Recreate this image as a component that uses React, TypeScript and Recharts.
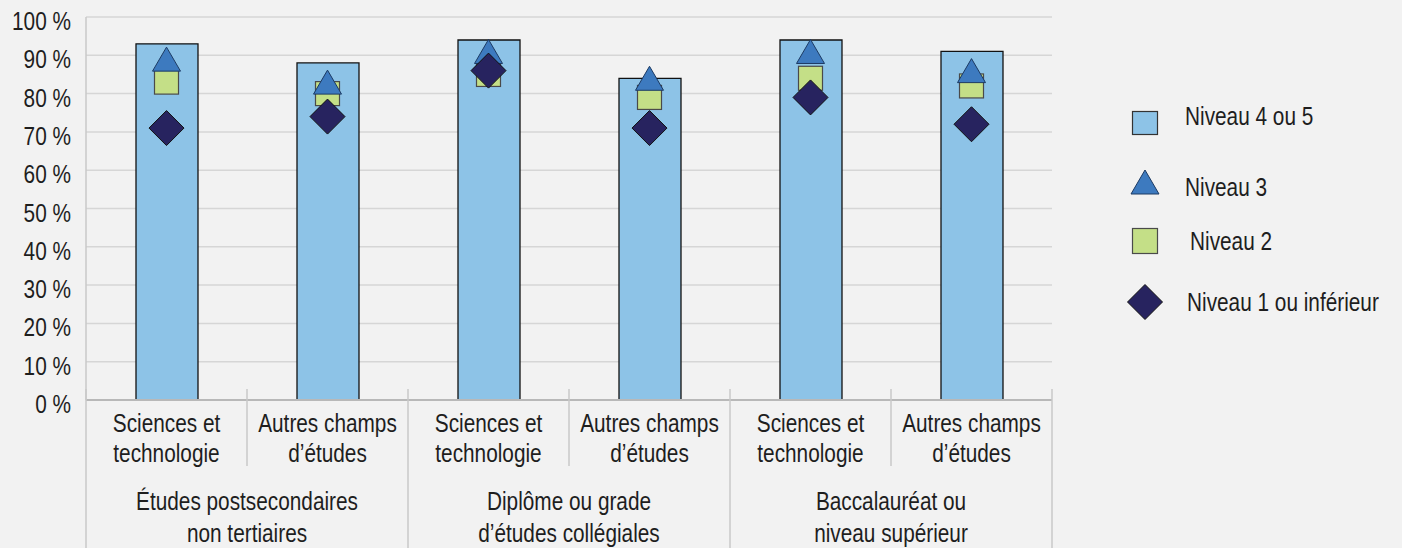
import React from 'react';
import { ComposedChart, Bar, Scatter, XAxis, YAxis, CartesianGrid, Legend } from 'recharts';

// ---- data ----
const groups = [
  'Études postsecondaires\nnon tertiaires',
  'Diplôme ou grade\nd’études collégiales',
  'Baccalauréat ou\nniveau supérieur',
];
const fields = ['Sciences et\ntechnologie', 'Autres champs\nd’études'];
const niveau45 = [93, 88, 94, 84, 94, 91];
const niveau3 = [89, 83, 91, 84, 91, 86];
const niveau2 = [83, 80, 85, 79, 84, 82];
const niveau1 = [71, 74, 86, 71, 79, 72];
const yTicks = [0, 10, 20, 30, 40, 50, 60, 70, 80, 90, 100];
const seriesNames = {
  n45: 'Niveau 4 ou 5',
  n3: 'Niveau 3',
  n2: 'Niveau 2',
  n1: 'Niveau 1 ou inférieur',
};

const data = groups.flatMap((g, gi) =>
  fields.map((f, fi) => {
    const i = gi * fields.length + fi;
    return {
      key: `c${i}`,
      field: f,
      group: g,
      n45: niveau45[i],
      n3: niveau3[i],
      n2: niveau2[i],
      n1: niveau1[i],
    };
  })
);

// ---- layout / style ----
const W = 1402;
const H = 548;
const Y_W = 86;
const M_RIGHT = 350;
const PLOT_W = W - Y_W - M_RIGHT;
const SUB_HALF = PLOT_W / data.length / 2;
const GRP_HALF = PLOT_W / groups.length / 2;
const FONT = "'Liberation Sans', Arial, sans-serif";
const FS = 26;
const SX = 0.8;
const TXT = '#1e1e1e';
const SEP = '#c8c8c8';

const C = {
  bar: '#8dc3e7',
  tri: '#3d7abf',
  sq: '#c4df87',
  dia: '#27235f',
};

const NText = ({ x, y, anchor = 'start', children }: any) => (
  <text
    transform={`translate(${x},${y}) scale(${SX},1)`}
    x={0}
    y={0}
    textAnchor={anchor}
    dominantBaseline="alphabetic"
    fontFamily={FONT}
    fontSize={FS}
    fill={TXT}
  >
    {children}
  </text>
);

const triangle = (cx: number, cy: number, w = 28, h = 24) => (
  <polygon
    points={`${cx},${cy - h / 2} ${cx + w / 2},${cy + h / 2} ${cx - w / 2},${cy + h / 2}`}
    fill={C.tri}
    stroke="#1c3a63"
    strokeWidth={1}
  />
);
const square = (cx: number, cy: number, s = 24) => (
  <rect x={cx - s / 2} y={cy - s / 2} width={s} height={s} fill={C.sq} stroke="#4a4a4a" strokeWidth={1.2} />
);
const diamond = (cx: number, cy: number, s = 17.5) => (
  <polygon
    points={`${cx},${cy - s} ${cx + s},${cy} ${cx},${cy + s} ${cx - s},${cy}`}
    fill={C.dia}
    stroke="#111"
    strokeWidth={1}
  />
);

const TriShape = (p: any) => <g>{triangle(p.cx, p.cy)}</g>;
const SqShape = (p: any) => <g>{square(p.cx, p.cy)}</g>;
const DiaShape = (p: any) => <g>{diamond(p.cx, p.cy)}</g>;

const YTick = (p: any) => (
  <NText x={p.x} y={p.y + 13} anchor="end">
    {`${p.payload.value} %`}
  </NText>
);

const SubTick = (p: any) => {
  const entry = data.find((d) => d.key === p.payload.value);
  const idx = data.findIndex((d) => d.key === p.payload.value);
  const lines = entry ? entry.field.split('\n') : [];
  return (
    <g>
      {lines.map((l, k) => (
        <NText key={k} x={p.x} y={p.y + 32 + k * 30} anchor="middle">
          {l}
        </NText>
      ))}
      {idx % 2 === 1 && (
        <line x1={p.x - SUB_HALF} x2={p.x - SUB_HALF} y1={p.y - 11} y2={p.y + 66} stroke={SEP} strokeWidth={1.5} />
      )}
    </g>
  );
};

const GroupTick = (p: any) => {
  const lines = String(p.payload.value).split('\n');
  const gi = groups.indexOf(p.payload.value);
  return (
    <g>
      {lines.map((l, k) => (
        <NText key={k} x={p.x} y={p.y + 30 + k * 32} anchor="middle">
          {l}
        </NText>
      ))}
      <line x1={p.x - GRP_HALF} x2={p.x - GRP_HALF} y1={p.y - 91} y2={p.y + 68} stroke={SEP} strokeWidth={1.5} />
      {gi === groups.length - 1 && (
        <line x1={p.x + GRP_HALF} x2={p.x + GRP_HALF} y1={p.y - 91} y2={p.y + 68} stroke={SEP} strokeWidth={1.5} />
      )}
    </g>
  );
};

const legendOrder = ['n45', 'n3', 'n2', 'n1'];
const legendLayout = [
  { my: 23, ty: 25, tx: 65 },
  { my: 82, ty: 96, tx: 65 },
  { my: 141, ty: 150, tx: 70 },
  { my: 202, ty: 211, tx: 67 },
];

const LegendContent = (props: any) => {
  const payload: any[] = props.payload || [];
  const items = legendOrder.map((k) => payload.find((e) => e.dataKey === k)).filter(Boolean);
  return (
    <svg width={282} height={240} style={{ display: 'block' }}>
      {items.map((e: any, i: number) => {
        const L = legendLayout[i];
        const mx = 25;
        let marker;
        if (e.dataKey === 'n45')
          marker = <rect x={mx - 12.5} y={L.my - 11.5} width={25} height={23} fill={C.bar} stroke="#333" strokeWidth={1.2} />;
        else if (e.dataKey === 'n3') marker = triangle(mx, L.my);
        else if (e.dataKey === 'n2') marker = square(mx, L.my, 25);
        else marker = diamond(mx, L.my);
        return (
          <g key={e.dataKey}>
            {marker}
            <NText x={L.tx} y={L.ty}>
              {e.value}
            </NText>
          </g>
        );
      })}
    </svg>
  );
};

export default function App() {
  return (
    <div style={{ position: 'absolute', left: 0, top: 0, width: W, height: H, background: '#f2f2f2' }}>
      <ComposedChart width={W} height={H} data={data} margin={{ top: 17, right: M_RIGHT, bottom: 0, left: 0 }}>
        <CartesianGrid horizontal vertical={false} stroke="#d6d6d6" strokeWidth={1.5} />
        <XAxis
          dataKey="key"
          height={80}
          tickLine={false}
          tickSize={0}
          tickMargin={0}
          axisLine={{ stroke: '#b8b8b8', strokeWidth: 2 }}
          tick={<SubTick />}
          interval={0}
        />
        <XAxis
          xAxisId="grp"
          dataKey="group"
          allowDuplicatedCategory={false}
          height={68}
          tickLine={false}
          tickSize={0}
          tickMargin={0}
          axisLine={false}
          tick={<GroupTick />}
          interval={0}
        />
        <YAxis
          width={Y_W}
          domain={[0, 100]}
          ticks={yTicks}
          interval={0}
          tickLine={false}
          tickSize={0}
          tickMargin={15}
          axisLine={{ stroke: SEP, strokeWidth: 1.5 }}
          tick={<YTick />}
        />
        <Legend
          layout="vertical"
          align="center"
          verticalAlign="middle"
          wrapperStyle={{ left: 1120, top: 100, width: 282, height: 240 }}
          content={<LegendContent />}
        />
        <Bar dataKey="n45" name={seriesNames.n45} fill={C.bar} stroke="#111" strokeWidth={1.3} barSize={62} isAnimationActive={false} />
        <Scatter dataKey="n2" name={seriesNames.n2} fill={C.sq} shape={<SqShape />} isAnimationActive={false} />
        <Scatter dataKey="n3" name={seriesNames.n3} fill={C.tri} shape={<TriShape />} isAnimationActive={false} />
        <Scatter dataKey="n1" name={seriesNames.n1} fill={C.dia} shape={<DiaShape />} isAnimationActive={false} />
      </ComposedChart>
    </div>
  );
}
